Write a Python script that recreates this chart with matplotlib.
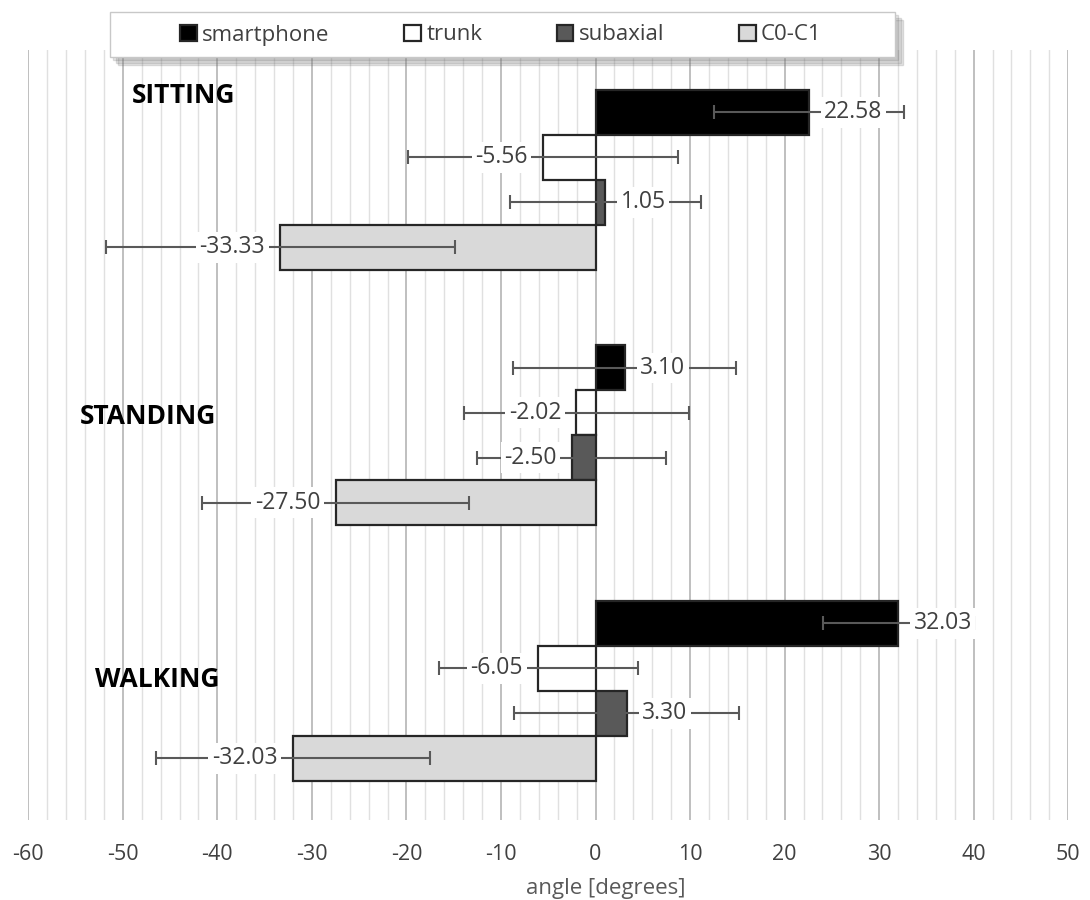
import matplotlib.pyplot as plt
import numpy as np
from matplotlib.ticker import MultipleLocator
from matplotlib.patches import Rectangle, Shadow

plt.rcParams['font.family'] = ['Open Sans', 'DejaVu Sans']
plt.rcParams['axes.unicode_minus'] = False

activities = ['SITTING', 'STANDING', 'WALKING']
segments = ['smartphone', 'trunk', 'subaxial', 'C0-C1']
colors = ['#000000', '#ffffff', '#595959', '#d9d9d9']

# mean angle per activity, one list per segment
smartphone = [22.58, 3.10, 32.03]
trunk = [-5.56, -2.02, -6.05]
subaxial = [1.05, -2.50, 3.30]
c0c1 = [-33.33, -27.50, -32.03]

# standard deviations
smartphone_sd = [10.0, 11.8, 8.0]
trunk_sd = [14.3, 11.9, 10.5]
subaxial_sd = [10.1, 10.0, 11.9]
c0c1_sd = [18.5, 14.1, 14.5]

means = [smartphone, trunk, subaxial, c0c1]
sds = [smartphone_sd, trunk_sd, subaxial_sd, c0c1_sd]

fig = plt.figure(figsize=(10.9, 9), dpi=100)
ax = fig.add_axes([0.026, 0.089, 0.954, 770 / 900])

h = 0.176
y = np.arange(len(activities))
offsets = [-1.5 * h, -0.5 * h, 0.5 * h, 1.5 * h]

for i, seg in enumerate(segments):
    pos = y + offsets[i]
    ax.barh(pos, means[i], height=h, color=colors[i], edgecolor='#262626',
            linewidth=1.6, label=seg, zorder=3)
    ax.errorbar(means[i], pos, xerr=sds[i], fmt='none', ecolor='#595959',
                elinewidth=1.5, capsize=5, capthick=1.5, zorder=4)
    for v, p in zip(means[i], pos):
        off = 11 if v >= 0 else -11
        ax.annotate(f'{v:.2f}', (v, p), xytext=(off, 0), textcoords='offset points',
                    ha='left' if v >= 0 else 'right', va='center', fontsize=16.5,
                    color='#404040', zorder=5,
                    bbox=dict(boxstyle='square,pad=0.15', fc='white', ec='none'))

# activity names, placed beside each group
name_x = [-49.1, -54.6, -53.0]
name_dy = [-0.33, -0.075, -0.045]
for name, xx, yy, dy in zip(activities, name_x, y, name_dy):
    ax.text(xx, yy + dy, name, fontsize=19, fontweight='bold', va='center', ha='left',
            color='black', zorder=5)

ax.set_xlim(-60, 50)
ax.set_ylim(2.505, -0.509)
ax.xaxis.set_major_locator(MultipleLocator(10))
ax.xaxis.set_minor_locator(MultipleLocator(2))
ax.grid(which='major', axis='x', color='#bfbfbf', linewidth=1.4, zorder=0)
ax.grid(which='minor', axis='x', color='#e0e0e0', linewidth=1.0, zorder=0)
ax.set_yticks([])
ax.tick_params(axis='x', which='both', length=0, labelsize=15.5, labelcolor='#404040', pad=17)
for s in ax.spines.values():
    s.set_visible(False)
ax.set_xlabel('angle [degrees]', fontsize=16, color='#595959')
ax.xaxis.set_label_coords(0.555, -0.075)

# legend box with a soft drop shadow, drawn in figure pixels
box = Rectangle((110 / 1090, 1 - 57 / 900), 785 / 1090, 45 / 900,
                transform=fig.transFigure, facecolor='white', edgecolor='#c8c8c8',
                linewidth=1.0, zorder=9)
for k in (2, 4, 6):
    fig.add_artist(Shadow(box, k / 1090, -k / 900, facecolor='#808080',
                          alpha=0.18, zorder=8))
fig.add_artist(box)

leg = fig.legend(*ax.get_legend_handles_labels(), ncol=4, loc='center left',
                 bbox_to_anchor=(180 / 1090, 1 - 35 / 900), frameon=False,
                 fontsize=16, handlelength=0.75, handleheight=0.75,
                 handletextpad=0.25, columnspacing=3.35, borderpad=0,
                 borderaxespad=0, labelcolor='#404040')
leg.set_zorder(10)

fig.savefig('out.png', dpi=100)
